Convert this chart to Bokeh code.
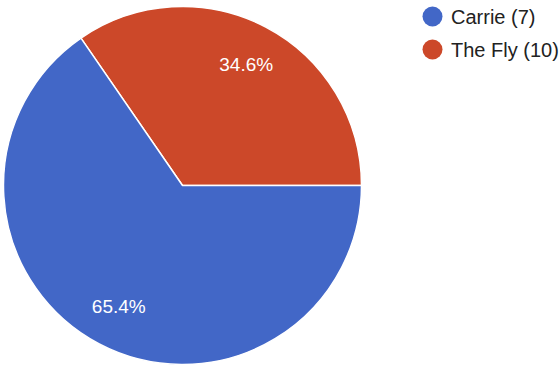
import numpy as np
from bokeh.plotting import figure
from bokeh.models import Range1d, ColumnDataSource
from bokeh.core.properties import value
from bokeh.embed import file_html
from bokeh.resources import INLINE

# Data (drawing order: counter-clockwise from 3 o'clock)
names = ["The Fly (10)", "Carrie (7)"]
shares = [34.6, 65.4]
pct_labels = ["34.6%", "65.4%"]
colors = ["#CC4829", "#4267C7"]

# legend order as in the reference
legend_names = ["Carrie (7)", "The Fly (10)"]
legend_colors = ["#4267C7", "#CC4829"]

W, H = 560, 368
cx, cy, R = 182, 183, 179

fr = np.array(shares) / sum(shares)
ends = np.cumsum(fr) * 2 * np.pi
starts = ends - fr * 2 * np.pi
mids = (starts + ends) / 2

p = figure(width=W, height=H, output_backend="svg", toolbar_location=None,
           x_range=Range1d(0, W), y_range=Range1d(0, H), min_border=0)
p.axis.visible = False
p.grid.visible = False
p.outline_line_color = None
p.background_fill_color = "white"
p.border_fill_color = "white"

src = ColumnDataSource(dict(x=[cx] * 2, y=[cy] * 2, start=starts, end=ends,
                            color=colors, name=names))
p.wedge(x="x", y="y", radius=R, start_angle="start", end_angle="end",
        fill_color="color", line_color="white", line_width=1.5, source=src)

lr = 0.765 * R
p.text(x=list(cx + lr * np.cos(mids)), y=list(cy + lr * np.sin(mids)), text=pct_labels,
       text_color="white", text_font=value("Liberation Sans"), text_font_size="19px",
       text_align="center", text_baseline="middle")

ly = [H - 16, H - 49]
p.circle(x=[432] * 2, y=ly, radius=10, fill_color=legend_colors, line_color=None)
p.text(x=[450.5] * 2, y=ly, text=legend_names, text_color="#222222",
       text_font=value("Liberation Sans"), text_font_size="20px",
       text_align="left", text_baseline="middle")

open("out.html", "w").write(file_html(p, INLINE))
